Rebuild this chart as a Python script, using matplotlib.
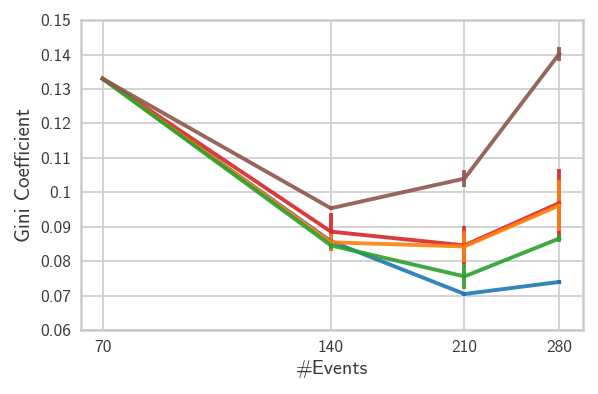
import numpy as np
import matplotlib.pyplot as plt
from matplotlib.ticker import FixedLocator, NullLocator, FixedFormatter

events = [70, 140, 210, 280]

blue = [0.133, 0.0858, 0.0705, 0.0740]
blue_err = [0.0, 0.0005, 0.0005, 0.0005]
red = [0.133, 0.0886, 0.0846, 0.0969]
red_err = [0.0, 0.0055, 0.0055, 0.0100]
orange = [0.133, 0.0855, 0.0843, 0.0962]
orange_err = [0.0, 0.0025, 0.0045, 0.0075]
green = [0.133, 0.0846, 0.0756, 0.0866]
green_err = [0.0, 0.0010, 0.0037, 0.0010]
brown = [0.133, 0.0954, 0.1040, 0.1402]
brown_err = [0.0, 0.0005, 0.0025, 0.0020]

yticks = [0.06, 0.07, 0.08, 0.09, 0.1, 0.11, 0.12, 0.13, 0.14, 0.15]
ytick_labels = ['0.06', '0.07', '0.08', '0.09', '0.1', '0.11', '0.12', '0.13', '0.14', '0.15']

plt.rcParams['font.family'] = ['cmss10', 'DejaVu Sans']
plt.rcParams['axes.formatter.use_mathtext'] = True

fig = plt.figure(figsize=(5.98, 3.94), dpi=100)
ax = fig.add_axes([0.135, 0.162, 0.84, 0.787])

series = [
    (blue, blue_err, '#1f77b4'),
    (red, red_err, '#d62728'),
    (orange, orange_err, '#ff7f0e'),
    (green, green_err, '#2ca02c'),
    (brown, brown_err, '#8c564b'),
]
for vals, err, col in series:
    ax.errorbar(events, vals, yerr=err, color=col, lw=2.8, elinewidth=2.8,
                capsize=0, alpha=0.9)

ax.set_xscale('log')
ax.set_xlim(65.5, 301)
ax.set_ylim(0.06, 0.15)
ax.xaxis.set_major_locator(FixedLocator(events))
ax.xaxis.set_major_formatter(FixedFormatter([str(e) for e in events]))
ax.xaxis.set_minor_locator(NullLocator())
ax.set_yticks(yticks)
ax.set_yticklabels(ytick_labels)

ax.grid(True, color='#d0d0d0', lw=1.3)
ax.set_axisbelow(True)
for s in ax.spines.values():
    s.set_color('#cccccc')
    s.set_linewidth(1.8)
ax.tick_params(length=0, labelsize=12.5, labelcolor='#3a3a3a', pad=7)

ax.set_xlabel('#Events', fontsize=14.5, color='#3a3a3a', labelpad=4)
ax.set_ylabel('Gini Coefficient', fontsize=15, color='#3a3a3a', labelpad=4)

fig.savefig('out.png', dpi=100)
